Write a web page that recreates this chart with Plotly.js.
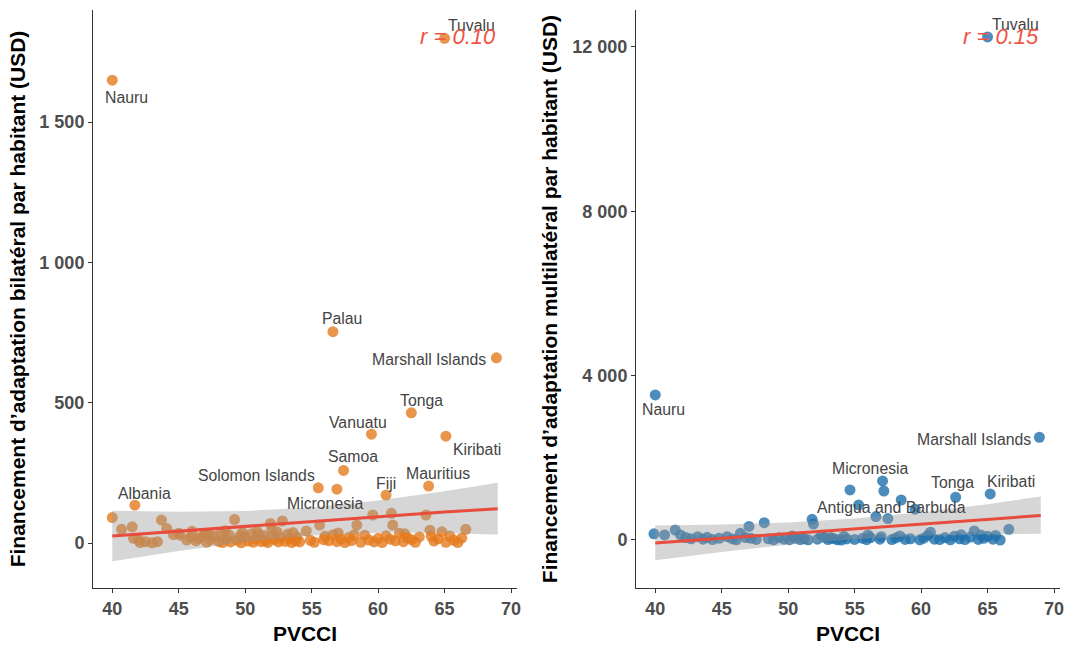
<!DOCTYPE html>
<html>
<head>
<meta charset="utf-8">
<script src="https://cdn.plot.ly/plotly-3.0.1.min.js"></script>
<style>
  html, body { margin: 0; padding: 0; background: #fff; }
  #chart { width: 1066px; height: 645px; }
</style>
</head>
<body>
<div id="chart"></div>
<script>
// ---- Bilateral adaptation finance per capita (USD) vs PVCCI ----
const bilatCountry = ["Nauru", "Tuvalu", "Palau", "Marshall Islands", "Tonga", "Vanuatu", "Kiribati",
  "Samoa", "Solomon Islands", "Micronesia", "Fiji", "Mauritius", "Albania"];
const bilatPvcci = [40.0, 65.0, 56.6, 68.9, 62.5, 59.5, 65.1, 57.4, 55.5, 56.9, 60.6, 63.8, 41.7,
  40.0, 40.7, 41.5, 41.6, 42.0, 42.1, 42.5, 43.0, 43.4, 43.7, 44.1, 45.0, 45.1, 45.6, 45.9, 46.3,
  46.5, 46.8, 47.0, 47.1, 47.4, 47.7, 48.0, 48.2, 48.3, 48.6, 48.8, 48.9, 49.2, 49.4, 49.7, 49.8,
  50.0, 50.2, 50.5, 50.6, 50.8, 51.0, 51.2, 51.4, 51.5, 51.7, 51.9, 52.0, 52.2, 52.4, 52.5, 52.6,
  52.8, 53.0, 53.2, 53.3, 53.5, 53.8, 53.9, 54.1, 54.6, 54.9, 55.2, 55.6, 56.0, 56.3, 56.6, 56.9,
  57.2, 57.5, 57.8, 58.0, 58.4, 58.7, 59.0, 59.3, 59.6, 59.7, 60.0, 60.3, 60.6, 61.0, 61.1, 61.3,
  61.6, 61.9, 62.2, 62.5, 62.8, 63.1, 63.6, 63.9, 64.2, 64.5, 64.8, 65.1, 65.4, 65.7, 66.0, 66.3, 66.6,
  44.6, 46.0, 47.3, 48.5, 49.6, 50.9, 52.1, 53.6, 55.9, 57.0, 58.2, 60.9, 62.0, 64.0];
const bilatUsd = [1649, 1798, 753, 660, 464, 388, 381, 259, 197, 192, 171, 203, 135,
  91, 49, 58, 17, 11, 2, 5, 1, 5, 82, 52, 35, 28, 11, 20, 8,
  17, 24, 35, 3, 12, 25, 6, 35, 2, 15, 28, 4, 84, 10, 1, 38,
  22, 7, 33, 3, 14, 30, 5, 27, 9, 2, 70, 49, 12, 40, 4, 20,
  79, 6, 32, 15, 2, 8, 22, 4, 43, 10, 3, 64, 24, 8, 30, 5,
  14, 2, 20, 9, 64, 3, 28, 11, 100, 4, 17, 2, 26, 106, 64, 8,
  35, 5, 19, 12, 3, 22, 100, 46, 7, 15, 40, 3, 25, 10, 2, 18, 49,
  30, 42, 30, 44, 26, 42, 28, 38, 12, 36, 30, 14, 33, 24];

// ---- Multilateral adaptation finance per capita (USD) vs PVCCI ----
const multiCountry = ["Tuvalu", "Nauru", "Marshall Islands", "Micronesia", "Tonga", "Kiribati",
  "Antigua and Barbuda"];
const multiPvcci = [65.0, 40.0, 68.9, 57.1, 62.6, 65.2, 58.5,
  39.9, 40.7, 41.5, 41.9, 42.3, 42.7, 43.2, 43.6, 43.9, 44.3, 44.8, 45.4, 45.8, 46.1, 46.4, 46.8,
  47.05, 47.2, 47.6, 48.2, 48.5, 48.9, 49.3, 49.7, 50.1, 50.5, 50.9, 51.2, 51.5, 51.8, 51.9, 52.2,
  52.7, 53.0, 53.4, 53.7, 54.0, 54.4, 54.65, 55.0, 55.3, 55.6, 55.9, 56.2, 56.6, 56.9, 57.2, 57.5,
  57.8, 58.1, 58.8, 59.2, 59.55, 59.9, 60.2, 60.7, 61.0, 61.4, 61.8, 62.2, 62.9, 63.3, 63.7, 64.0,
  64.3, 64.7, 65.0, 65.4, 65.95, 66.6,
  50.3, 51.0, 52.5, 53.2, 54.2, 56.0, 57.0, 58.4, 60.5, 62.5, 63.0, 64.5, 65.6];
const multiUsd = [12240, 3530, 2500, 1436, 1040, 1120, 973,
  150, 122, 243, 122, 60, 30, 80, 20, 66, 10, 40, 80, 25, 5, 163, 60,
  330, 41, 15, 421, 30, 5, 55, 20, 8, 45, 12, 30, 3, 504, 389, 20,
  66, 10, 35, 5, 0, 25, 1217, 15, 852, 40, 8, 60, 570, 20, 1192, 520,
  10, 50, 15, 30, 750, 5, 45, 190, 20, 10, 60, 5, 30, 12, 70, 220,
  15, 40, 90, 20, 0, 260,
  100, 70, 110, 60, 90, 120, 80, 100, 110, 90, 130, 120, 110];

// Linear fits with 95 % confidence band
const fitPvcci = [40, 45, 50, 55, 60, 65, 69];
const bilatFit = [25, 42, 59, 77, 94, 111, 122];
const bilatLow = [-65, -28, 4, 27, 37, 37, 30];
const bilatHigh = [115, 112, 114, 127, 152, 185, 215];
const multiFit = [-75, 41, 156, 272, 387, 503, 595];
const multiLow = [-490, -293, -114, 21, 102, 135, 150];
const multiHigh = [350, 375, 426, 523, 672, 870, 1060];
const rBilat = 0.10;
const rMulti = 0.15;

// Axis ticks
const pvcciTicks = [40, 45, 50, 55, 60, 65, 70];
const pvcciTickText = ["40", "45", "50", "55", "60", "65", "70"];
const bilatTicks = [0, 500, 1000, 1500];
const bilatTickText = ["0", "500", "1 000", "1 500"];
const multiTicks = [0, 4000, 8000, 12000];
const multiTickText = ["0", "4 000", "8 000", "12 000"];

// Label placement in pixels (right, down) relative to each point
const labelShift = {
  bilat: {
    "Nauru": [14, 17], "Tuvalu": [27, -13], "Palau": [9, -13], "Marshall Islands": [-67, 2],
    "Tonga": [10, -12], "Vanuatu": [-13, -12], "Kiribati": [31, 13], "Samoa": [9, -14],
    "Solomon Islands": [-62, -12], "Micronesia": [-11, 14], "Fiji": [0, -12],
    "Mauritius": [9, -13], "Albania": [10, -12]
  },
  multi: {
    "Tuvalu": [28, -12], "Nauru": [8, 15], "Marshall Islands": [-65, 2], "Micronesia": [-12, -12],
    "Tonga": [-3, -15], "Kiribati": [21, -12], "Antigua and Barbuda": [-10, 7]
  }
};

const FONT = "Liberation Sans, Arial, sans-serif";
const ORANGE = "rgba(228,122,30,0.8)";
const BLUE = "rgba(33,113,171,0.8)";
const RED = "#E74C3C";
const BAND = "rgba(153,153,153,0.4)";

function panel(xs, ys, fit, lo, hi, color, xa, ya) {
  const bandX = fitPvcci.concat(fitPvcci.slice().reverse());
  const bandY = hi.concat(lo.slice().reverse());
  return [
    { type: "scatter", mode: "markers", x: xs, y: ys, xaxis: xa, yaxis: ya,
      marker: { size: 11, color: color, line: { width: 0 } }, hoverinfo: "skip" },
    { type: "scatter", mode: "lines", x: bandX, y: bandY, xaxis: xa, yaxis: ya,
      fill: "toself", fillcolor: BAND, line: { width: 0 }, hoverinfo: "skip" },
    { type: "scatter", mode: "lines", x: fitPvcci, y: fit, xaxis: xa, yaxis: ya,
      line: { color: RED, width: 3 }, hoverinfo: "skip" }
  ];
}

const data = [].concat(
  panel(bilatPvcci, bilatUsd, bilatFit, bilatLow, bilatHigh, ORANGE, "x", "y"),
  panel(multiPvcci, multiUsd, multiFit, multiLow, multiHigh, BLUE, "x2", "y2")
);

function labels(names, xs, ys, shifts, xa, ya) {
  return names.map((n, i) => ({
    text: n, x: xs[i], y: ys[i], xref: xa, yref: ya, showarrow: false,
    xshift: shifts[n][0], yshift: -shifts[n][1],
    xanchor: "center", yanchor: "middle",
    font: { family: FONT, size: 15.8, color: "#444" }
  }));
}

function rLabel(r, xa, ya) {
  return {
    text: "<i>r = " + r.toFixed(2) + "</i>", xref: xa + " domain", yref: ya + " domain",
    x: 0.861, y: 0.954, showarrow: false, xanchor: "center", yanchor: "middle",
    font: { family: FONT, size: 22, color: "#EE5544" }
  };
}

const annotations = [].concat(
  labels(bilatCountry, bilatPvcci, bilatUsd, labelShift.bilat, "x", "y"),
  labels(multiCountry, multiPvcci, multiUsd, labelShift.multi, "x2", "y2"),
  [rLabel(rBilat, "x", "y"), rLabel(rMulti, "x2", "y2")]
);

const axisBase = {
  showline: true, linecolor: "#333", linewidth: 1, mirror: false,
  ticks: "outside", ticklen: 4, tickwidth: 1, tickcolor: "#333",
  showgrid: false, zeroline: false, automargin: false,
  tickfont: { family: FONT, size: 18, color: "#4d4d4d", weight: "bold" }
};
const titleFont = { family: FONT, size: 21, color: "#000", weight: "bold" };

const layout = {
  width: 1066, height: 645,
  margin: { l: 0, r: 0, t: 10, b: 57 },
  paper_bgcolor: "#fff", plot_bgcolor: "#fff",
  showlegend: false, hovermode: false,
  xaxis: Object.assign({}, axisBase, {
    domain: [93 / 1066, 517 / 1066], anchor: "y", range: [38.55, 70.45],
    tickmode: "array", tickvals: pvcciTicks, ticktext: pvcciTickText,
    title: { text: "PVCCI", font: titleFont, standoff: 9 }
  }),
  yaxis: Object.assign({}, axisBase, {
    domain: [0, 1], anchor: "x", range: [-160, 1899],
    tickmode: "array", tickvals: bilatTicks, ticktext: bilatTickText,
    title: { text: "Financement d’adaptation bilatéral par habitant (USD)", font: titleFont, standoff: 8 }
  }),
  xaxis2: Object.assign({}, axisBase, {
    domain: [636 / 1066, 1060 / 1066], anchor: "y2", range: [38.55, 70.45],
    tickmode: "array", tickvals: pvcciTicks, ticktext: pvcciTickText,
    title: { text: "PVCCI", font: titleFont, standoff: 9 }
  }),
  yaxis2: Object.assign({}, axisBase, {
    domain: [0, 1], anchor: "x2", range: [-1168, 12895],
    tickmode: "array", tickvals: multiTicks, ticktext: multiTickText,
    title: { text: "Financement d’adaptation multilatéral par habitant (USD)", font: titleFont, standoff: 8 }
  }),
  annotations: annotations
};

Plotly.newPlot("chart", data, layout, { staticPlot: true, displayModeBar: false });
</script>
</body>
</html>
